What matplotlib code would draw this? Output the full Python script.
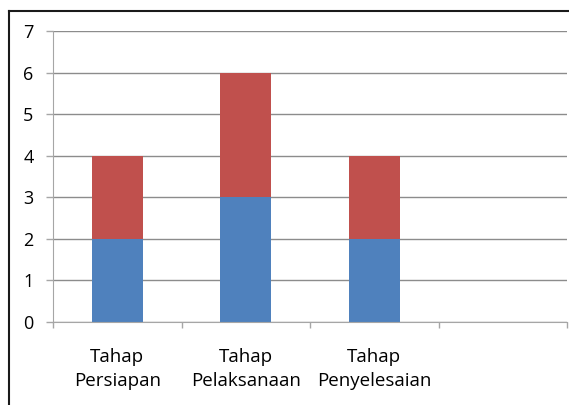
import matplotlib
matplotlib.use("Agg")
import matplotlib.pyplot as plt
from matplotlib.lines import Line2D
import numpy as np

# Data
categories = ["Tahap\nPersiapan", "Tahap\nPelaksanaan", "Tahap\nPenyelesaian", ""]
series_bottom = [2, 3, 2, 0]
series_top = [2, 3, 2, 0]

plt.rcParams["font.family"] = ["Open Sans", "DejaVu Sans"]

fig = plt.figure(figsize=(5.69, 4.05), dpi=100)
ax = fig.add_axes([53 / 569, 1 - 322 / 405, 514 / 569, 291 / 405])

x = np.arange(len(categories))
ax.bar(x, series_bottom, width=0.4, color="#4F81BD", zorder=2)
ax.bar(x, series_top, width=0.4, bottom=series_bottom, color="#C0504D", zorder=2)

ax.set_xlim(-0.5, len(categories) - 0.5)
ax.set_ylim(0, 7)

# Y axis
ax.set_yticks(range(0, 8))
ax.tick_params(axis="y", length=5, width=1, color="#A6A6A6", pad=9, labelsize=13)
ax.yaxis.grid(True, color="#8C8C8C", linewidth=1, zorder=0)

# X axis: boundary ticks, labels at centres
ax.set_xticks(np.arange(-0.5, len(categories), 1.0))
ax.set_xticklabels([])
ax.tick_params(axis="x", which="major", length=4, width=1, color="#A6A6A6")
ax.set_xticks(x, minor=True)
ax.set_xticklabels(categories, minor=True, fontsize=13.5, linespacing=1.42)
ax.tick_params(axis="x", which="minor", length=0, pad=19)

for side in ["top", "right"]:
    ax.spines[side].set_visible(False)
ax.spines["left"].set_color("#A6A6A6")
ax.spines["bottom"].set_color("#A6A6A6")

# Outer chart border (left and top edges visible)
fig.add_artist(Line2D([9 / 569, 9 / 569], [0, 1 - 11 / 405], transform=fig.transFigure, color="#1a1a1a", linewidth=1.5))
fig.add_artist(Line2D([9 / 569, 1], [1 - 11 / 405, 1 - 11 / 405], transform=fig.transFigure, color="#1a1a1a", linewidth=1.5))

fig.savefig("out.png", dpi=100)
